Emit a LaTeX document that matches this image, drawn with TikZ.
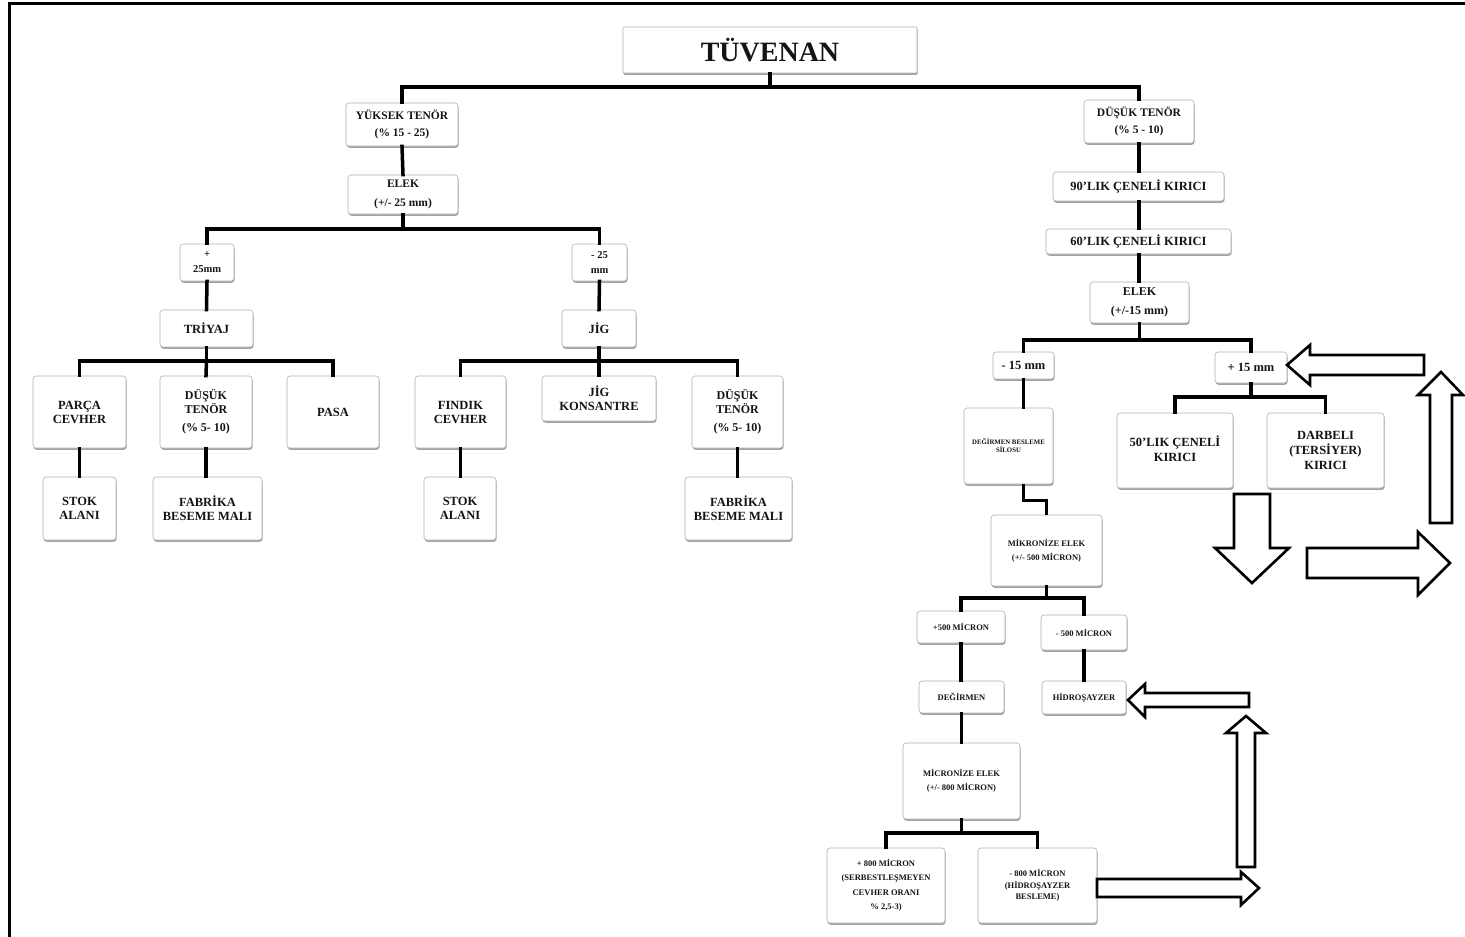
\documentclass[tikz,border=0pt]{standalone}
\usepackage{fontspec}
\setmainfont{Liberation Serif}
\usetikzlibrary{shadows}
\newcommand\fsz[2]{\fontsize{#1}{#2}\selectfont}
\begin{document}
\begin{tikzpicture}[x=1pt,y=-1pt,
  box/.style={draw=black!30, line width=0.6pt, fill=white, rounded corners=3pt,
    align=center, inner sep=1pt, font=\bfseries, text=black!92,
    drop shadow={shadow xshift=0.6pt, shadow yshift=-1.8pt, fill=black!60, opacity=0.6}},
  fs/.style 2 args={font=\bfseries\fsz{#1}{#2}},
  conn/.style={line width=3.5pt, line cap=rect},
  barrow/.style={line width=2.6pt, fill=white, line join=miter}]
\useasboundingbox (0,0) rectangle (1465,937);
\fill[white] (0,0) rectangle (1465,937);
% frame
\draw[line width=3pt] (1465,3) -- (9,3) -- (9,937);

% ---------- nodes ----------
\node[box, fs={28}{30}, minimum width=294pt, minimum height=46pt, rounded corners=1pt] (title) at (770,50) {TÜVENAN};
\node[box, fs={11.5}{17}, minimum width=112pt, minimum height=43pt] (yt) at (402,124.5) {YÜKSEK TENÖR\\(\% 15 - 25)};
\node[box, fs={11.5}{17}, minimum width=110pt, minimum height=43pt] (dt) at (1139,121.5) {DÜŞÜK TENÖR\\(\% 5 - 10)};
\node[box, fs={11.5}{19}, minimum width=110pt, minimum height=39pt] (elek1) at (403,194.5) {ELEK\\(+/- 25 mm)};
\node[box, fs={10.5}{15}, minimum width=54pt, minimum height=37pt] (p25) at (207,262.5) {+\\25mm};
\node[box, fs={10.5}{15}, minimum width=55pt, minimum height=37pt] (m25) at (599.5,262.5) {- 25\\mm};
\node[box, fs={12.5}{14}, minimum width=93pt, minimum height=37pt] (triyaj) at (206.5,328.5) {TRİYAJ};
\node[box, fs={12.5}{14}, minimum width=74pt, minimum height=37pt] (jig) at (599,328.5) {JİG};
\node[box, fs={12.5}{14}, minimum width=93pt, minimum height=72pt] (parca) at (79.5,412) {PARÇA\\CEVHER};
\node[box, fs={12}{11}, minimum width=92pt, minimum height=72pt] (dtl) at (206,412) {DÜŞÜK\\TENÖR\\[7pt](\% 5- 10)};
\node[box, fs={12.5}{14}, minimum width=92pt, minimum height=72pt] (pasa) at (333,412) {PASA};
\node[box, fs={12.5}{14}, minimum width=91pt, minimum height=72pt] (findik) at (460.5,412) {FINDIK\\CEVHER};
\node[box, fs={12.5}{14}, minimum width=114pt, minimum height=45pt] (jigk) at (599,398.5) {JİG\\KONSANTRE};
\node[box, fs={12}{11}, minimum width=91pt, minimum height=72pt] (dtr) at (737.5,412) {DÜŞÜK\\TENÖR\\[7pt](\% 5- 10)};
\node[box, fs={12.5}{14}, minimum width=73pt, minimum height=63pt] (stok1) at (79.5,508.5) {STOK\\ALANI};
\node[box, fs={12.5}{14}, minimum width=109pt, minimum height=63pt] (fab1) at (207.5,508.5) {FABRİKA\\BESEME MALI};
\node[box, fs={12.5}{14}, minimum width=72pt, minimum height=63pt] (stok2) at (460,508.5) {STOK\\ALANI};
\node[box, fs={12.5}{14}, minimum width=107pt, minimum height=63pt] (fab2) at (738.5,508.5) {FABRİKA\\BESEME MALI};

\node[box, fs={12.5}{14}, minimum width=171pt, minimum height=29pt] (c90) at (1138.5,186.5) {90'LIK ÇENELİ KIRICI};
\node[box, fs={12.5}{14}, minimum width=185pt, minimum height=25pt] (c60) at (1138.5,241.5) {60'LIK ÇENELİ KIRICI};
\node[box, fs={12}{19}, minimum width=99pt, minimum height=41pt] (elek2) at (1139.5,302.5) {ELEK\\(+/-15 mm)};
\node[box, fs={12.5}{14}, minimum width=61pt, minimum height=27pt] (m15) at (1023.5,365.5) {- 15 mm};
\node[box, fs={12.5}{14}, minimum width=72pt, minimum height=31pt] (p15) at (1251,367.5) {+ 15 mm};
\node[box, fs={12.5}{15}, minimum width=116pt, minimum height=75pt] (c50) at (1175,450.5) {\raisebox{8pt}{\begin{tabular}{@{}c@{}}50'LIK ÇENELİ\\KIRICI\end{tabular}}};
\node[box, fs={12.5}{15}, minimum width=117pt, minimum height=75pt] (darbeli) at (1325.5,450.5) {DARBELI\\(TERSİYER)\\KIRICI};
\node[box, fs={6.8}{8}, minimum width=89pt, minimum height=76pt] (silo) at (1008.5,446) {DEĞİRMEN BESLEME\\SİLOSU};
\node[box, fs={8.5}{14}, minimum width=111pt, minimum height=71pt] (mik1) at (1046.5,550.5) {MİKRONİZE ELEK\\(+/- 500 MİCRON)};
\node[box, fs={8.5}{10}, minimum width=88pt, minimum height=32pt] (p500) at (961,627) {+500 MİCRON};
\node[box, fs={8.5}{10}, minimum width=86pt, minimum height=35pt] (m500) at (1084,632.5) {- 500 MİCRON};
\node[box, fs={8.5}{10}, minimum width=85pt, minimum height=32pt] (deg) at (961.5,697) {DEĞİRMEN};
\node[box, fs={8.5}{10}, minimum width=84pt, minimum height=33pt] (hidro) at (1084,697.5) {HİDROŞAYZER};
\node[box, fs={8.5}{14}, minimum width=117pt, minimum height=76pt] (mik2) at (961.5,781) {MİCRONİZE ELEK\\(+/- 800 MİCRON)};
\node[box, fs={8.5}{14.5}, minimum width=118pt, minimum height=75pt] (p800) at (886,885.5) {+ 800 MİCRON\\(SERBESTLEŞMEYEN\\CEVHER ORANI\\\% 2,5-3)};
\node[box, fs={8.5}{11.5}, minimum width=119pt, minimum height=75pt] (m800) at (1037.5,885.5) {- 800 MİCRON\\(HİDROŞAYZER\\BESLEME)};

% ---------- connectors ----------
\coordinate (j0) at (770,87);
\draw[conn] (title.south) -- (j0);
\draw[conn] (yt.north) |- (j0) -| (dt.north);
\draw[conn] (yt.south) -- (elek1.north);
\coordinate (j1) at (403,229);
\draw[conn] (elek1.south) -- (j1);
\draw[conn] (p25.north) |- (j1) -| (m25.north);
\draw[conn] (p25.south) -- (triyaj.north);
\draw[conn] (m25.south) -- (jig.north);
\coordinate (j2) at (206.5,361);
\draw[conn] (triyaj.south) -- (j2);
\draw[conn] (parca.north) |- (j2) -| (pasa.north);
\draw[conn] (j2) -- (dtl.north);
\coordinate (j3) at (599,361);
\draw[conn] (jig.south) -- (j3);
\draw[conn] (findik.north) |- (j3) -| (dtr.north);
\draw[conn] (j3) -- (jigk.north);
\draw[conn] (parca.south) -- (stok1.north);
\draw[conn] (dtl.south) -- (dtl.south |- fab1.north);
\draw[conn] (findik.south) -- (findik.south |- stok2.north);
\draw[conn] (dtr.south) -- (dtr.south |- fab2.north);

\draw[conn] (dt.south) -- (dt.south |- c90.north);
\draw[conn] (dt.south |- c90.south) -- (dt.south |- c60.north);
\draw[conn] (dt.south |- c60.south) -- (dt.south |- elek2.north);
\coordinate (j4) at (1139.5,340);
\draw[conn] (elek2.south) -- (j4);
\draw[conn] (m15.north) |- (j4) -| (p15.north);
\coordinate (j5) at (1251,397);
\draw[conn] (p15.south) -- (j5);
\draw[conn] (c50.north) |- (j5) -| (darbeli.north);
\draw[conn] (m15.south) -- (m15.south |- silo.north);
\coordinate (s1) at (m15.south |- silo.south);
\draw[conn, line cap=butt] (s1) -- ++(0,16) -| (mik1.north);
\coordinate (j6) at (1046.5,598);
\draw[conn] (mik1.south) -- (j6);
\draw[conn] (p500.north) |- (j6) -| (m500.north);
\draw[conn] (p500.south) -- (p500.south |- deg.north);
\draw[conn] (m500.south) -- (m500.south |- hidro.north);
\draw[conn] (deg.south) -- (deg.south |- mik2.north);
\coordinate (j7) at (961.5,833);
\draw[conn] (mik2.south) -- (j7);
\draw[conn] (p800.north) |- (j7) -| (m800.north);

% ---------- block arrows ----------
\draw[barrow] (1424,355) -- (1310,355) -- (1310,345) -- (1287,365) -- (1310,385) -- (1310,375) -- (1424,375) -- cycle;
\draw[barrow] (1430,523) -- (1430,395) -- (1418,395) -- (1441,372) -- (1463,395) -- (1452,395) -- (1452,523) -- cycle;
\draw[barrow] (1234,494) -- (1270,494) -- (1270,548) -- (1289,548) -- (1252,583) -- (1215,548) -- (1234,548) -- cycle;
\draw[barrow] (1307,548) -- (1418,548) -- (1418,532) -- (1450,563) -- (1418,595) -- (1418,578) -- (1307,578) -- cycle;
\draw[barrow] (1249,693) -- (1145,693) -- (1145,684) -- (1128,700) -- (1145,717) -- (1145,707) -- (1249,707) -- cycle;
\draw[barrow] (1237,867) -- (1237,733) -- (1226,733) -- (1246,716) -- (1266,733) -- (1255,733) -- (1255,867) -- cycle;
\draw[barrow] (1097,879) -- (1241,879) -- (1241,872) -- (1259,888) -- (1241,905) -- (1241,897) -- (1097,897) -- cycle;
\end{tikzpicture}
\end{document}
